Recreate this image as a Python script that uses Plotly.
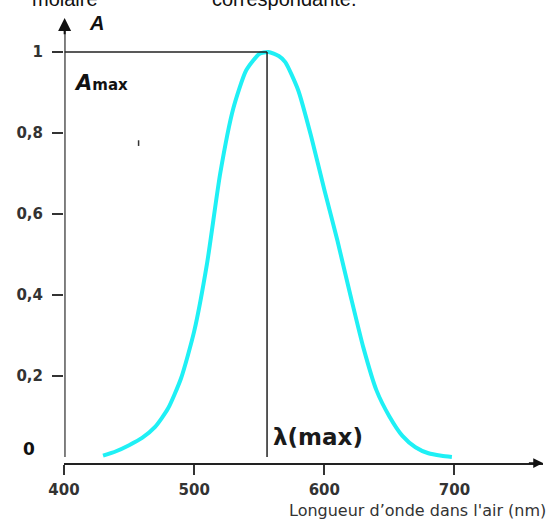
import plotly.graph_objects as go

# ---- data ----
wavelength_nm = [430, 440, 450, 460, 470, 480, 490, 500, 510, 520, 530, 540, 550, 557,
                 565, 570, 580, 590, 600, 610, 620, 630, 640, 650, 660, 670, 680, 690, 698]
absorbance = [0.003, 0.014, 0.029, 0.047, 0.074, 0.12, 0.195, 0.31, 0.48, 0.70, 0.86, 0.955, 0.995, 1.0,
              0.99, 0.975, 0.905, 0.79, 0.66, 0.535, 0.40, 0.27, 0.165, 0.10, 0.052, 0.024, 0.009, 0.003, 0.0]
lambda_max = 556
a_max = 1.0
x_ticks = [400, 500, 600, 700]
x_ticklabels = ["400", "500", "600", "700"]
y_ticks = [0.2, 0.4, 0.6, 0.8, 1.0]
y_ticklabels = ["0,2", "0,4", "0,6", "0,8", "1"]

X0, X1 = 400, 768
Y0, Y1 = -0.015, 1.084

fig = go.Figure()
fig.add_trace(go.Scatter(x=wavelength_nm, y=absorbance, mode="lines",
                         line=dict(color="#1ff0f5", width=4, shape="spline", smoothing=0.6),
                         hoverinfo="skip", showlegend=False))

tickfont = dict(family="DejaVu Sans, Verdana, sans-serif", size=15, color="#333333", weight="bold")

fig.update_layout(
    width=551, height=519,
    margin=dict(l=64, r=8, t=18, b=56),
    paper_bgcolor="white", plot_bgcolor="white",
    showlegend=False,
    xaxis=dict(range=[X0, X1], showgrid=False, zeroline=False,
               showline=True, linecolor="#222222", linewidth=1.5,
               tickmode="array", tickvals=x_ticks, ticktext=x_ticklabels,
               ticks="outside", ticklen=10, tickwidth=1.5, tickcolor="#333333",
               tickfont=tickfont, ticklabelstandoff=2),
    yaxis=dict(range=[Y0, Y1], showgrid=False, zeroline=False, showline=False,
               tickmode="array", tickvals=y_ticks, ticktext=y_ticklabels,
               ticks="outside", ticklen=11, tickwidth=1.5, tickcolor="#333333",
               tickfont=tickfont, ticklabelstandoff=6),
)

# y-axis line (grey) and its arrowhead
fig.add_shape(type="line", x0=X0 + 0.5, x1=X0 + 0.5, y0=0, y1=1.06,
              line=dict(color="#7a7a7a", width=2.5), layer="above")
fig.add_annotation(x=X0 + 0.5, y=Y1, ax=X0 + 0.5, ay=1.04, xref="x", yref="y", axref="x", ayref="y",
                   showarrow=True, arrowhead=2, arrowsize=1.3, arrowwidth=2, arrowcolor="#111111", text="")
# x-axis arrowhead
fig.add_annotation(x=X1, y=Y0, ax=X1 - 12, ay=Y0, xref="x", yref="y", axref="x", ayref="y",
                   showarrow=True, arrowhead=2, arrowsize=1.3, arrowwidth=1.5, arrowcolor="#111111", text="")

# guide lines for A max and lambda max
fig.add_shape(type="line", x0=X0 + 0.5, x1=lambda_max, y0=a_max, y1=a_max,
              line=dict(color="#222222", width=1.5))
fig.add_shape(type="line", x0=lambda_max, x1=lambda_max, y0=0, y1=a_max,
              line=dict(color="#222222", width=1.5))
# small stray mark
fig.add_shape(type="line", x0=457.3, x1=457.3, y0=0.768, y1=0.782,
              line=dict(color="#333333", width=1.5))

labfont = "Liberation Sans, Arial, sans-serif"
# axis title
fig.add_annotation(xref="paper", yref="paper", x=1.0105, y=(463 - 510) / 445, xanchor="right", yanchor="middle",
                   text="Longueur d\u2019onde dans l'air (nm)", showarrow=False,
                   font=dict(family="DejaVu Sans, Verdana, sans-serif", size=16, color="#333333"))
# "0" label
fig.add_annotation(xref="paper", yref="paper", x=(29 - 64) / 479, y=(463 - 449) / 445,
                   xanchor="center", yanchor="middle", text="<b>0</b>", showarrow=False,
                   font=dict(family="DejaVu Sans, sans-serif", size=17, color="#111111"))
# "A" axis label
fig.add_annotation(xref="paper", yref="paper", x=(96 - 64) / 479, y=(463 - 23) / 445,
                   xanchor="center", yanchor="middle", text="<b><i>A</i></b>", showarrow=False,
                   font=dict(family=labfont, size=20, color="#111111"))
# "Amax"
fig.add_annotation(xref="paper", yref="paper", x=(72 - 64) / 479, y=(463 - 83) / 445,
                   xanchor="left", yanchor="middle",
                   text="<b><i>A</i></b><b><span style='font-size:15px'>max</span></b>", showarrow=False,
                   font=dict(family="DejaVu Sans, sans-serif", size=21, color="#111111"))
# lambda(max)
fig.add_annotation(xref="paper", yref="paper", x=(271 - 64) / 479, y=(463 - 437) / 445,
                   xanchor="left", yanchor="middle", text="\u03bb(max)", showarrow=False,
                   font=dict(family="DejaVu Sans, sans-serif", size=23, color="#1a1a1a", weight="bold"))
# cut-off text at the top of the image
fig.add_annotation(xref="paper", yref="paper", x=(30 - 64) / 479, y=(463 + 1) / 445,
                   xanchor="left", yanchor="middle", text="molaire", showarrow=False,
                   font=dict(family=labfont, size=20, color="#111111"))
fig.add_annotation(xref="paper", yref="paper", x=(210 - 64) / 479, y=(463 + 1) / 445,
                   xanchor="left", yanchor="middle", text="correspondante.", showarrow=False,
                   font=dict(family=labfont, size=20, color="#111111"))

fig.write_html("out.html", config={"displayModeBar": False},
               post_script="document.body.style.margin='0';document.body.style.padding='0';")
